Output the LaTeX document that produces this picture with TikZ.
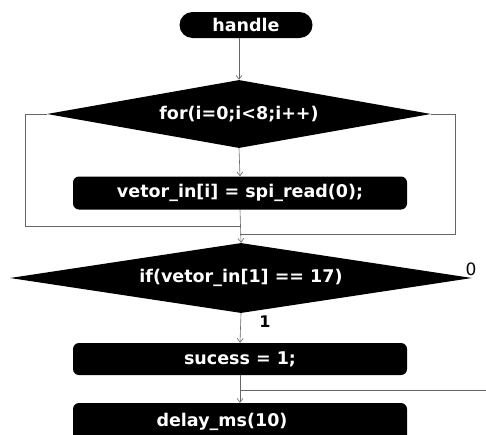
\documentclass[tikz,border=0pt]{standalone}
\usepackage{fontspec}
\setmainfont{DejaVu Sans}
\usetikzlibrary{shapes.geometric,arrows.meta}
\begin{document}
\begin{tikzpicture}[x=1pt,y=-1pt,
  txt/.style={text=white,inner sep=0pt,font=\bfseries\fontsize{17.5}{21}\selectfont},
  term/.style={txt,fill=black,rounded corners=13pt,minimum width=133pt,minimum height=26pt},
  box/.style={txt,fill=black,rounded corners=6pt,minimum width=334pt,minimum height=33pt},
  dec/.style={txt,diamond,fill=black,aspect=6},
  conn/.style={draw=black!60,line width=0.6pt},
  arr/.style={conn,-{Straight Barb[length=4pt,width=6pt]}},
  lbl/.style={inner sep=0pt,text=black}
]
\useasboundingbox (0,0) rectangle (486,434);
\clip (0,0) rectangle (486,434);
\node[term] (handle) at (246,25) {handle};
\node[dec,minimum width=384pt,minimum height=68pt] (for) at (239,114) {for(i=0;i<8;i++)};
\node[box] (vetor) at (240,193) {vetor\_in[i] = spi\_read(0);};
\node[dec,minimum width=462pt,minimum height=70pt] (ifd) at (241,278) {if(vetor\_in[1] == 17)};
\node[box,minimum height=32pt] (sucess) at (240,359) {sucess = 1;};
\node[box,minimum height=38pt] (delay) at (240,422) {\hspace*{-36pt}delay\_ms(10)};
\node[lbl,font=\fontsize{17}{20}\selectfont] (zero) at (471,269) {0};
\node[lbl,font=\bfseries\fontsize{16}{18}\selectfont] (one) at (265,322) {1};
\coordinate (L) at (25,226);
\coordinate (R) at (455,234);
\coordinate (E) at (486,390);
\draw[arr] (handle.south -| for.north) -- (for.north);
\draw[arr] (for.south) -- (vetor.north);
\draw[arr] (vetor.south) -- (ifd.north);
\draw[conn] (for.west) -| (L) -- (L -| vetor.south);
\draw[conn] (for.east) -| (R) -- (R -| vetor.south);
\draw[arr] (ifd.south) -- (sucess.north);
\draw[arr] (sucess.south) -- (delay.north);
\draw[conn] (E) -- (E -| sucess.south);
\end{tikzpicture}
\end{document}
